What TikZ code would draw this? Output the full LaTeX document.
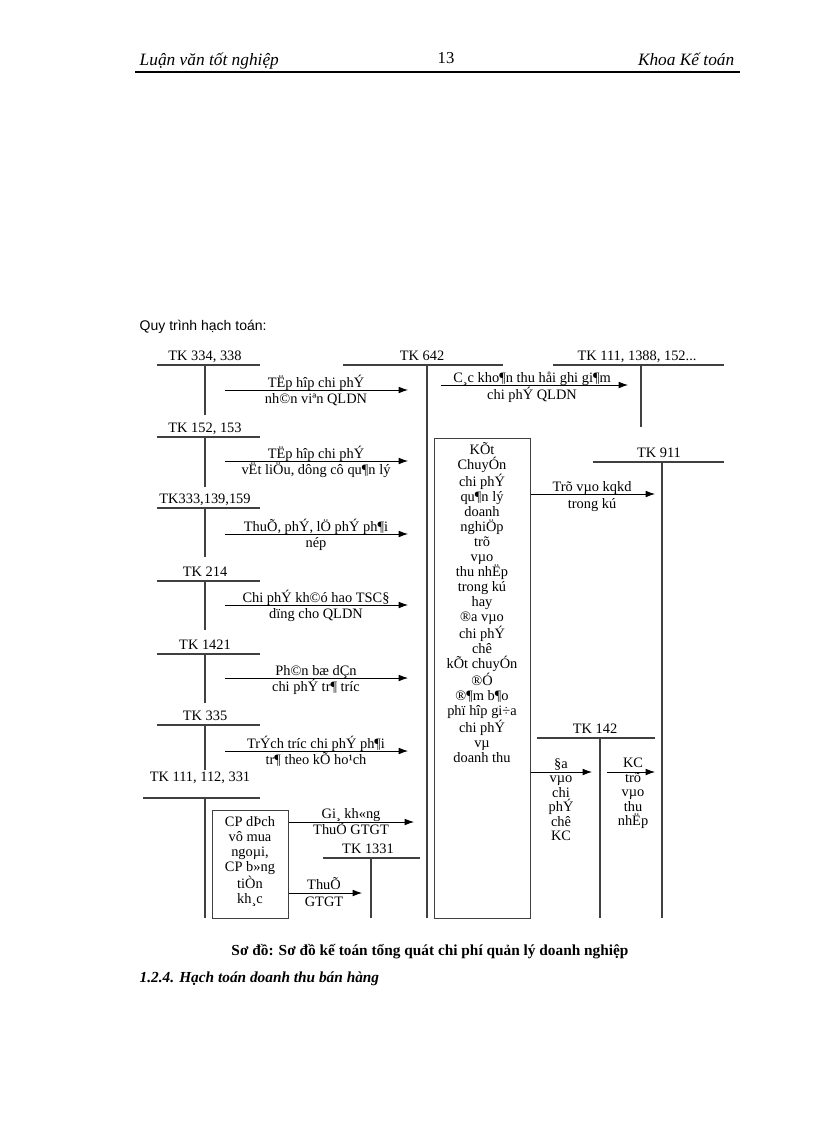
\documentclass[tikz,border=0pt]{standalone}
\usepackage{fontspec}
\setmainfont{Liberation Serif}
\newfontfamily\arialf{Liberation Sans}
\usetikzlibrary{arrows.meta}
\begin{document}
\begin{tikzpicture}[x=0.75pt,y=-0.75pt,
  ln/.style={draw=black!75,line width=0.9pt},
  ar/.style={draw=black,line width=0.6pt,-{Latex[length=7pt,width=5pt]}},
  tx/.style={font=\fontsize{10.8}{11.3}\selectfont,inner sep=0pt,align=center},
  tk/.style={font=\fontsize{10.8}{11.3}\selectfont,inner sep=0pt}]
\useasboundingbox (0,0) rectangle (816,1123);
% header
\node[anchor=base west,font=\itshape\fontsize{13}{15}\selectfont] (h1) at (135,66) {Luận văn tốt nghiệp};
\node[anchor=base,font=\fontsize{12.5}{15}\selectfont] (h2) at (446,64) {13};
\node[anchor=base east,font=\itshape\fontsize{13}{15}\selectfont] (h3) at (739,66) {Khoa Kế toán};
\draw[line width=1pt] (135,72) -- (740,72);
\node[anchor=base west,font=\arialf\fontsize{10.5}{12}\selectfont] (q) at (135,330) {Quy trình hạch toán:};
% left accounts
\foreach \nm/\lab/\y/\yb in {a/{TK 334, 338}/365/415, b/{TK 152, 153}/437/487, c/{TK333,139,159}/508/557, d/{TK 214}/581/630, e/{TK 1421}/654/703, f/{TK 335}/725/770}{
  \draw[ln] (157,\y) -- (260,\y);
  \node[tk,anchor=base] (\nm) at (205,\y-5) {\lab};
  \draw[ln] (205,\y) -- (205,\yb);
}
\node[tk,anchor=base] (g) at (200,781) {TK 111, 112, 331};
\draw[ln] (143,798) -- (260,798);
\draw[ln] (205,798) -- (205,918);
% TK 642
\draw[ln] (343,365) -- (503,365);
\node[tk,anchor=base] (k642) at (422,360) {TK 642};
\draw[ln] (427,365) -- (427,918);
% TK 111,1388
\draw[ln] (553,365) -- (724,365);
\node[tk,anchor=base] (k111) at (637,360) {TK 111, 1388, 152...};
\draw[ln] (641,365) -- (641,427);
% arrows left
\foreach \y/\ta/\tb in {390/{TËp hîp  chi phÝ}/{nh©n viªn QLDN}, 461/{TËp hîp  chi phÝ}/{vËt liÖu, dông cô qu¶n lý}, 534/{ThuÕ, phÝ, lÖ phÝ ph¶i}/{nép}, 605/{Chi phÝ kh©ó  hao TSC§}/{dïng cho QLDN}, 678/{Ph©n bæ dÇn}/{chi phÝ tr¶ tr­íc}, 751/{TrÝch tr­íc  chi phÝ ph¶i}/{tr¶ theo kÕ ho¹ch}}{
  \coordinate (s) at (225,\y); \coordinate (t) at (408,\y);
  \draw[ar] (s) -- (t);
  \node[tx,anchor=base] at (316,\y-3) {\ta};
  \node[tx,anchor=base] at (316,\y+13) {\tb};
}
% C,c
\coordinate (cs) at (441,385); \coordinate (ct) at (628,385);
\draw[ar] (cs) -- (ct);
\node[tx,anchor=base] at (532,382) {C¸c kho¶n thu håi ghi gi¶m};
\node[tx,anchor=base] at (532,399) {chi phÝ QLDN};
% CP box
\node[draw=black!75,line width=0.8pt,minimum width=76pt*0.75,minimum height=108pt*0.75,anchor=north west,inner sep=0pt] (cp) at (212,810) {};
\node[tx,anchor=north] at (250,816) {CP dÞch\\vô mua\\ngoµi,\\CP b»ng\\tiÒn\\kh¸c};
\coordinate (g1) at (414,822);
\draw[ar] (cp.east |- g1) -- (g1);
\node[tx,anchor=base] at (351,818) {Gi¸ kh«ng};
\node[tx,anchor=base] at (351,834) {ThuÕ GTGT};
\draw[ln] (323,858) -- (420,858);
\node[tk,anchor=base] (k1331) at (368,853) {TK 1331};
\draw[ln] (371,858) -- (371,918);
\coordinate (g2) at (362,893);
\draw[ar] (cp.east |- g2) -- (g2);
\node[tx,anchor=base] at (324,889) {ThuÕ};
\node[tx,anchor=base] at (324,906) {GTGT};
% big box
\node[draw=black!75,line width=0.8pt,minimum width=96pt*0.75,minimum height=480pt*0.75,anchor=north west,inner sep=0pt] (big) at (434,438) {};
\node[tx,anchor=north] at (482,442) {KÕt\\ChuyÓn\\chi phÝ\\qu¶n lý\\doanh\\nghiÖp\\trõ\\vµo\\thu nhËp\\trong kú\\hay\\®a  vµo\\chi phÝ\\chê\\kÕt chuyÓn\\®Ó\\®¶m b¶o\\phï hîp gi÷a\\chi phÝ\\vµ\\doanh thu};
% TK 911
\draw[ln] (593,462) -- (724,462);
\node[tk,anchor=base] (k911) at (659,457) {TK 911};
\draw[ln] (662,462) -- (662,918);
\coordinate (t911) at (655,494);
\draw[ar] (big.east |- t911) -- (t911);
\node[tx,anchor=base] at (592,491) {Trõ vµo  kqkd};
\node[tx,anchor=base] at (592,508) {trong kú};
% TK 142
\draw[ln] (537,738) -- (655,738);
\node[tk,anchor=base] (k142) at (595,733) {TK 142};
\draw[ln] (600,738) -- (600,918);
\coordinate (t142) at (592,772);
\draw[ar] (big.east |- t142) -- (t142);
\node[tx,anchor=north,font=\fontsize{10.8}{10.9}\selectfont] at (561,758) {§a\\vµo\\chi\\phÝ\\chê\\KC};
\coordinate (kcs) at (607,772); \coordinate (kct) at (655,772);
\draw[ar] (kcs) -- (kct);
\node[tx,anchor=north,font=\fontsize{10.8}{10.9}\selectfont] at (633,758) {KC\\trõ\\vµo\\thu\\nhËp};
% captions
\node[anchor=base,font=\bfseries\fontsize{11.5}{13}\selectfont] (cap) at (430,955) {Sơ đồ: Sơ đồ kế toán tổng quát chi phí quản lý doanh nghiệp};
\node[anchor=base west,font=\bfseries\itshape\fontsize{11.5}{13}\selectfont] (sec) at (135,982) {1.2.4. Hạch toán doanh thu bán hàng};
\end{tikzpicture}
\end{document}
